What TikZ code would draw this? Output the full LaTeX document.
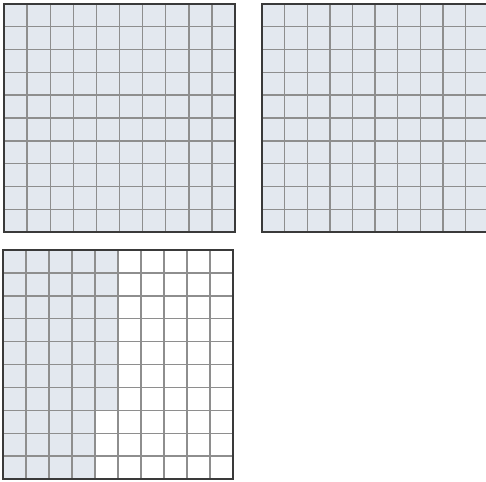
\documentclass[tikz,border=0pt]{standalone}
\definecolor{cellfill}{HTML}{E3E8EF}
\definecolor{gridline}{HTML}{8E8E8E}
\definecolor{framecol}{HTML}{3A3A3A}
\begin{document}
\begin{tikzpicture}[x=1pt,y=-1pt,
  gridln/.style={gridline,line width=1.4pt},
  framebox/.style={framecol,line width=1.8pt}]
\useasboundingbox (0,0) rectangle (486,481);
\clip (0,0) rectangle (486,481);
% grid A (top left), fully shaded
\fill[cellfill] (4,4) rectangle (235,232);
\foreach \i in {1,...,9} {
  \draw[gridln] ({4+23.1*\i},4) -- ({4+23.1*\i},232);
  \draw[gridln] (4,{4+22.8*\i}) -- (235,{4+22.8*\i});
}
\draw[framebox] (4,4) rectangle (235,232);
% grid B (top right), fully shaded, clipped at right edge
\fill[cellfill] (262,4) rectangle (488,232);
\foreach \i in {1,...,9} {
  \draw[gridln] ({262+22.6*\i},4) -- ({262+22.6*\i},232);
  \draw[gridln] (262,{4+22.8*\i}) -- (488,{4+22.8*\i});
}
\draw[framebox] (262,4) rectangle (488,232);
% grid C (bottom left), 47 cells shaded
\fill[white] (3,250) rectangle (233,479);
\fill[cellfill] (3,250) rectangle (95,479);
\fill[cellfill] (95,250) rectangle (118,{250+7*22.9});
\foreach \i in {1,...,9} {
  \draw[gridln] ({3+23*\i},250) -- ({3+23*\i},479);
  \draw[gridln] (3,{250+22.9*\i}) -- (233,{250+22.9*\i});
}
\draw[framebox] (3,250) rectangle (233,479);
\end{tikzpicture}
\end{document}
